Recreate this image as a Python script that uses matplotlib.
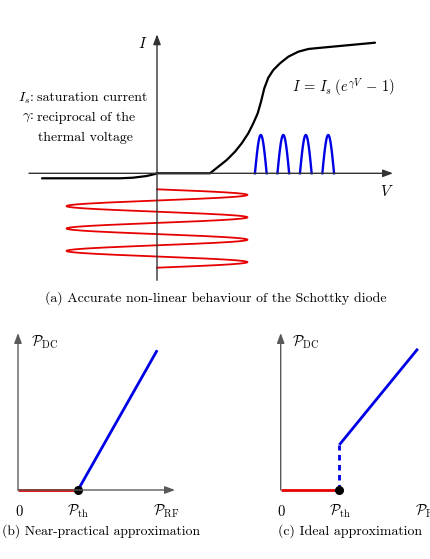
import numpy as np
import matplotlib
matplotlib.use('Agg')
import matplotlib.pyplot as plt

W, H, DPI = 431, 559, 100

# ---------------- data ----------------
# (a) I-V characteristic of the Schottky diode (px units rel. to origin)
iv_v = [-115, -37, -24, -10.3, -2, 0, 53, 61.3, 69.7, 78, 84.7, 91.3, 96.3, 100.7,
        104, 107.3, 111.3, 116.3, 123, 131.3, 141.3, 151.3, 158, 218]
iv_i = [-5, -5, -4.4, -2.7, -0.7, 0, 0, 6.6, 13.3, 21.6, 30, 40, 50, 60,
        71.6, 85, 95.6, 103.3, 110, 116.6, 121.6, 124.3, 125, 130.6]
# rectified output pulses
pulse_centers = [103.8, 126.3, 148.8, 171.2]
pulse_width = 11.7
pulse_height = 38.3
# RF input (drawn along the negative I axis as time)
rf_amplitude = 90.5
rf_start = -16.0
rf_period = 22.4
rf_cycles = 3.5

# (b) near-practical approximation
b_off_x = [0, 1.0]
b_on_x = [1.0, 2.32]
b_on_y = [0, 2.33]
b_th = 1.0

# (c) ideal approximation
c_off_x = [0, 1.0]
c_jump_y = [0, 0.77]
c_on_x = [1.0, 2.34]
c_on_y = [0.77, 2.41]
c_th = 1.0

plt.rcParams['mathtext.fontset'] = 'cm'
plt.rcParams['font.family'] = ['cmr10', 'DejaVu Serif']
plt.rcParams['axes.formatter.use_mathtext'] = True

fig = plt.figure(figsize=(W / DPI, H / DPI), dpi=DPI, facecolor='white')


def ftext(x, y, s, **kw):
    kw.setdefault('ha', 'center')
    kw.setdefault('va', 'center')
    kw.setdefault('fontsize', 10)
    fig.text(x / W, 1 - y / H, s, **kw)


def arrow(ax, x0, y0, x1, y1, color, lw=1.0):
    ax.annotate('', xy=(x1, y1), xytext=(x0, y0),
                arrowprops=dict(arrowstyle='-|>,head_length=0.75,head_width=0.28',
                                mutation_scale=8, lw=lw, color=color,
                                shrinkA=0, shrinkB=0))


# ---------------- panel (a) ----------------
ax = fig.add_axes([0, 1 - 300 / H, 1, 300 / H])
ax.set_xlim(-157, 274)
ax.set_ylim(173.3 - 300, 173.3)
ax.set_axis_off()
axc = '#333333'
arrow(ax, -128, 0, 236, 0, axc)
arrow(ax, 0, -107, 0, 139, axc)

ax.plot(iv_v, iv_i, color='black', lw=1.6, solid_joinstyle='round', solid_capstyle='round')

for c in pulse_centers:
    t = np.linspace(0, 1, 60)
    ax.plot(c - pulse_width / 2 + pulse_width * t, pulse_height * np.sin(np.pi * t),
            color='#0000e6', lw=1.7)

tt = np.linspace(0, rf_cycles, 600)
ax.plot(rf_amplitude * np.sin(2 * np.pi * tt), rf_start - rf_period * tt,
        color='#e60000', lw=1.3)

ftext(143, 43, r'$I$', fontsize=11)
ftext(387, 192, r'$V$', fontsize=11)
ftext(343, 87, r'$I\,=\,I_s\;(e^{\gamma V}\,-\,1)$', fontsize=10.5)
ftext(34, 98, r'$I_s$:', ha='right')
ftext(37, 98, 'saturation current', ha='left')
ftext(34, 118, r'$\gamma$:', ha='right')
ftext(37, 118, 'reciprocal of the', ha='left')
ftext(38, 138, 'thermal voltage', ha='left')
ftext(216, 298, '(a) Accurate non-linear behaviour of the Schottky diode')

# ---------------- panel (b) ----------------
axb = fig.add_axes([0, 0, 215 / W, 239 / H])
sb = 60.0
axb.set_xlim(-18 / sb, 197 / sb)
axb.set_ylim(-69 / sb, 170 / sb)
axb.set_axis_off()
gc = '#5a5a5a'
arrow(axb, 0, 0, 157 / sb, 0, gc)
arrow(axb, 0, 0, 0, 157 / sb, gc)
axb.plot(b_off_x, [0, 0], color='#e60000', lw=2.0, solid_capstyle='butt')
axb.plot(b_on_x, b_on_y, color='#0000e6', lw=2.0, solid_capstyle='butt')
axb.plot([b_th], [0], 'o', color='black', ms=5.5)

ftext(45, 342, r'$\mathcal{P}_{\mathrm{DC}}$', fontsize=10.5)
ftext(19, 511, r'$0$', fontsize=10.5)
ftext(78, 511, r'$\mathcal{P}_{\mathrm{th}}$', fontsize=10.5)
ftext(166, 511, r'$\mathcal{P}_{\mathrm{RF}}$', fontsize=10.5)
ftext(101, 531, '(b) Near-practical approximation', fontsize=9.8)

# ---------------- panel (c) ----------------
axcc = fig.add_axes([215 / W, 0, 216 / W, 239 / H])
sc = 58.6
axcc.set_xlim(-65.7 / sc, 150.3 / sc)
axcc.set_ylim(-69 / sc, 170 / sc)
axcc.set_axis_off()
arrow(axcc, 0, 0, 160 / sc, 0, gc)
arrow(axcc, 0, 0, 0, 157 / sc, gc)
axcc.plot(c_off_x, [0, 0], color='#e60000', lw=2.0, solid_capstyle='butt')
axcc.plot([c_th, c_th], c_jump_y, color='#0000e6', lw=2.0, ls=(0, (2, 1.6)))
axcc.plot(c_on_x, c_on_y, color='#0000e6', lw=2.0, solid_capstyle='butt')
axcc.plot([c_th], [0], 'o', color='black', ms=5.5)

ftext(306, 342, r'$\mathcal{P}_{\mathrm{DC}}$', fontsize=10.5)
ftext(281, 511, r'$0$', fontsize=10.5)
ftext(340, 511, r'$\mathcal{P}_{\mathrm{th}}$', fontsize=10.5)
ftext(428, 511, r'$\mathcal{P}_{\mathrm{RF}}$', fontsize=10.5)
ftext(350, 531, '(c) Ideal approximation')

fig.savefig('out.png', dpi=DPI, facecolor='white')
